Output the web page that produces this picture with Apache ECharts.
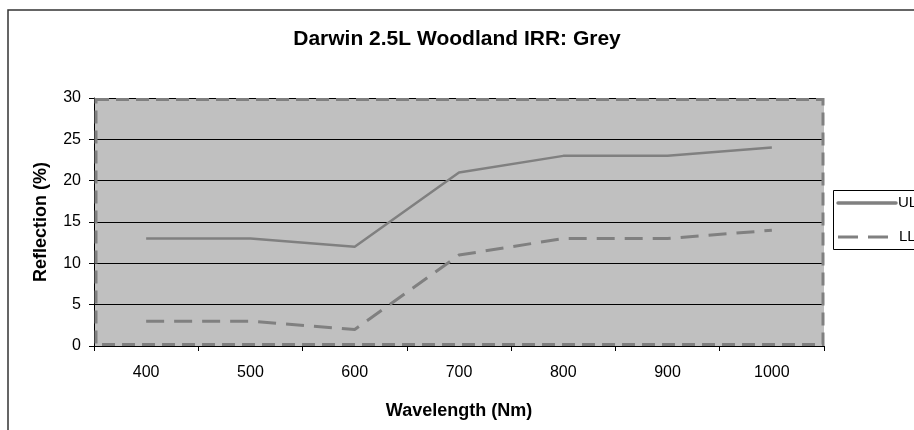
<!DOCTYPE html>
<html>
<head>
<meta charset="utf-8">
<script src="https://cdn.jsdelivr.net/npm/echarts@6/dist/echarts.min.js"></script>
<style>
html,body{margin:0;padding:0;background:#fff;}
#c{width:914px;height:430px;}
</style>
</head>
<body>
<div id="c"></div>
<script>
const titleText = 'Darwin 2.5L Woodland IRR: Grey';
const categories = ['400', '500', '600', '700', '800', '900', '1000'];
const ulValues = [13, 13, 12, 21, 23, 23, 24];
const llValues = [3, 3, 2, 11, 13, 13, 14];
const seriesNames = ['UL', 'LL'];

const FONT = '"Liberation Sans", Arial, sans-serif';
const chart = echarts.init(document.getElementById('c'));
const G = {left: 94, top: 98, width: 730, height: 248};
const LINE_COLOR = '#808080';
const DASH = [18, 10];

chart.setOption({
  animation: false,
  backgroundColor: '#fff',
  title: {
    text: titleText,
    left: 'center',
    top: 24,
    textStyle: {fontFamily: FONT, fontSize: 21, fontWeight: 'bold', color: '#000'}
  },
  grid: {
    left: G.left, top: G.top, width: G.width, height: G.height,
    show: true, backgroundColor: '#c0c0c0', borderWidth: 0
  },
  xAxis: {
    type: 'category',
    data: categories,
    boundaryGap: true,
    name: 'Wavelength (Nm)',
    nameLocation: 'middle',
    nameGap: 56,
    nameTextStyle: {fontFamily: FONT, fontSize: 18, fontWeight: 'bold', color: '#000'},
    axisLine: {lineStyle: {color: '#000', width: 1}},
    axisTick: {show: true, length: 5, alignWithLabel: false, lineStyle: {color: '#000'}},
    axisLabel: {fontFamily: FONT, fontSize: 16, color: '#000', margin: 19},
    splitLine: {show: false}
  },
  yAxis: {
    type: 'value',
    min: 0, max: 30, interval: 5,
    name: 'Reflection (%)',
    nameLocation: 'middle',
    nameGap: 44,
    nameRotate: 90,
    nameTextStyle: {fontFamily: FONT, fontSize: 18, fontWeight: 'bold', color: '#000'},
    axisLine: {show: true, lineStyle: {color: '#000', width: 1}},
    axisTick: {show: true, length: 5, lineStyle: {color: '#000'}},
    axisLabel: {fontFamily: FONT, fontSize: 16, color: '#000', margin: 13},
    splitLine: {show: true, lineStyle: {color: '#000', width: 1}}
  },
  graphic: [
    {
      type: 'polyline', silent: true, z: 0,
      shape: {points: [[8, 430], [8, 10], [914, 10]]},
      style: {stroke: '#333', lineWidth: 1.5, fill: null}
    },
    {
      type: 'rect', silent: true, z: 5,
      shape: {x: G.left + 2, y: G.top + 1.5, width: G.width - 3, height: G.height - 3},
      style: {fill: null, stroke: '#808080', lineWidth: 3, lineDash: [13, 7]}
    },
    {
      type: 'group', silent: true, z: 10,
      children: [
        {type: 'rect', shape: {x: 833.5, y: 190.5, width: 120, height: 59},
         style: {fill: '#fff', stroke: '#000', lineWidth: 1}},
        {type: 'line', shape: {x1: 838, y1: 203, x2: 896, y2: 203},
         style: {stroke: LINE_COLOR, lineWidth: 3.5, lineCap: 'round'}},
        {type: 'text', x: 898, y: 203,
         style: {text: seriesNames[0], fontFamily: FONT, fontSize: 15, fill: '#000', verticalAlign: 'middle', align: 'left'}},
        {type: 'line', shape: {x1: 838, y1: 237, x2: 896, y2: 237},
         style: {stroke: LINE_COLOR, lineWidth: 3, lineDash: [20, 10]}},
        {type: 'text', x: 899, y: 237,
         style: {text: seriesNames[1], fontFamily: FONT, fontSize: 15, fill: '#000', verticalAlign: 'middle', align: 'left'}}
      ]
    }
  ],
  series: [
    {
      name: seriesNames[0], type: 'line', data: ulValues,
      symbol: 'none',
      lineStyle: {color: LINE_COLOR, width: 2.5},
      itemStyle: {color: LINE_COLOR}
    },
    {
      name: seriesNames[1], type: 'line', data: llValues,
      symbol: 'none',
      lineStyle: {color: LINE_COLOR, width: 3, type: DASH},
      itemStyle: {color: LINE_COLOR}
    }
  ]
});
</script>
</body>
</html>
